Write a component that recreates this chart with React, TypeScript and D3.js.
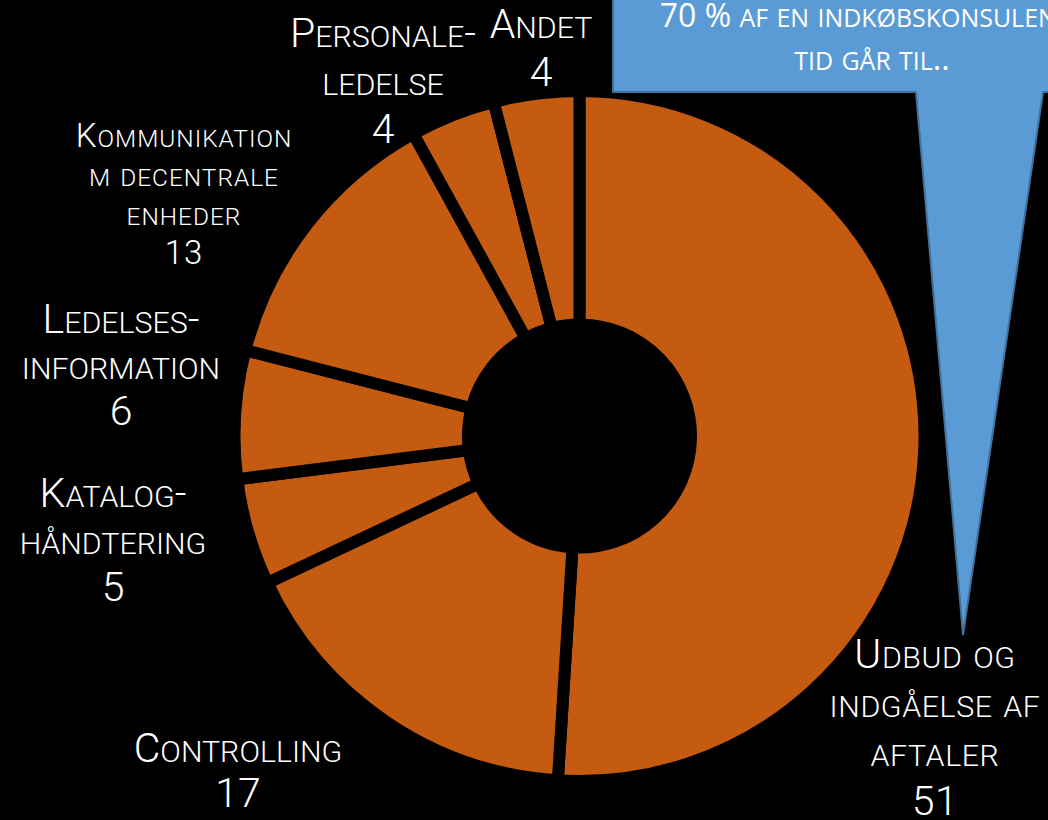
import React, { useEffect } from "react";
import * as d3 from "d3";

// ---- data ----
const categories = [
  "Udbud og indgåelse af aftaler",
  "Controlling",
  "Katalog-håndtering",
  "Ledelses-information",
  "Kommunikation m decentrale enheder",
  "Personale-ledelse",
  "Andet",
];
const values = [51, 17, 5, 6, 13, 4, 4];
const labelLines = [
  ["Udbud og", "indgåelse af", "aftaler"],
  ["Controlling"],
  ["Katalog-", "håndtering"],
  ["Ledelses-", "information"],
  ["Kommunikation", "m decentrale", "enheder"],
  ["Personale-", "ledelse"],
  ["Andet"],
];
const calloutLine1 = "70 % af en indkøbskonsulents";
const calloutLine2 = "tid går til..";

// ---- layout (hand-placed labels, as in the reference slide) ----
const labelLayout = [
  { x: 935, y: 668, lh: 49, fs: 41, ls: 0.6 },
  { x: 238, y: 762, lh: 45, fs: 41, ls: 0 },
  { x: 113, y: 507, lh: 47, fs: 41, ls: 0 },
  { x: 121, y: 333, lh: 46, fs: 41, ls: 0 },
  { x: 184, y: 147, lh: 39, fs: 33, ls: 1 },
  { x: 383, y: 47, lh: 48, fs: 41, ls: 0 },
  { x: 541, y: 38, lh: 48, fs: 41, ls: 0 },
];

const W = 1048;
const H = 820;
const CX = 579.5;
const CY = 436;
const GAP = 12;
const R_OUT = 339 + GAP / 2;
const R_IN = 117.5 - GAP / 2;
const ORANGE = "#C55A11";
const BLUE = "#5B9BD5";
const BLUE_BORDER = "#41719C";
const LABEL_FONT = "Roboto, 'Noto Sans', sans-serif";
const CALLOUT_FONT = "'Open Sans', 'Noto Sans', sans-serif";

function smallCaps(text: string, fs: number, ratio: number) {
  const runs: { t: string; small: boolean }[] = [];
  for (const ch of text) {
    const small = ch !== ch.toUpperCase();
    const last = runs[runs.length - 1];
    if (last && last.small === small) last.t += ch;
    else runs.push({ t: ch, small });
  }
  return runs.map((r, k) => (
    <tspan key={k} fontSize={r.small ? fs * ratio : fs}>
      {r.small ? r.t.toUpperCase() : r.t}
    </tspan>
  ));
}

export default function App() {
  useEffect(() => {
    document.body.style.margin = "0";
    document.body.style.background = "#000";
  }, []);

  const pie = d3
    .pie<number>()
    .sort(null)
    .value((d) => d)
    .startAngle(0)
    .endAngle(2 * Math.PI);
  const arcs = pie(values);
  const arc = d3.arc<d3.PieArcDatum<number>>().innerRadius(R_IN).outerRadius(R_OUT);

  const calloutPath = d3.path();
  calloutPath.moveTo(613, -10);
  calloutPath.lineTo(1070, -10);
  calloutPath.lineTo(1070, 92);
  calloutPath.lineTo(1043, 92);
  calloutPath.lineTo(963, 635);
  calloutPath.lineTo(916, 92);
  calloutPath.lineTo(613, 92);
  calloutPath.closePath();

  return (
    <svg
      width={W}
      height={H}
      viewBox={`0 0 ${W} ${H}`}
      style={{ position: "absolute", left: 0, top: 0, background: "#000", display: "block" }}
    >
      <rect x={0} y={0} width={W} height={H} fill="#000" />
      <g transform={`translate(${CX},${CY})`}>
        {arcs.map((a, i) => (
          <path key={categories[i]} d={arc(a) || ""} fill={ORANGE} stroke="#000" strokeWidth={GAP} />
        ))}
      </g>

      <path d={calloutPath.toString()} fill={BLUE} stroke={BLUE_BORDER} strokeWidth={2} />
      <text x={872} y={27} textAnchor="middle" fill="#fff" fontFamily={CALLOUT_FONT}>
        {smallCaps(calloutLine1, 32, 0.78)}
      </text>
      <text x={872} y={70} textAnchor="middle" fill="#fff" fontFamily={CALLOUT_FONT}>
        {smallCaps(calloutLine2, 32, 0.78)}
      </text>

      {labelLines.map((lines, i) => {
        const L = labelLayout[i];
        const all = [...lines, String(values[i])];
        return (
          <text
            key={categories[i]}
            textAnchor="middle"
            fill="#fff"
            fontFamily={LABEL_FONT}
            fontWeight={300}
            letterSpacing={L.ls}
          >
            {all.map((t, j) => (
              <tspan key={j} x={L.x} y={L.y + j * L.lh}>
                {smallCaps(t, L.fs, 0.74)}
              </tspan>
            ))}
          </text>
        );
      })}
    </svg>
  );
}
